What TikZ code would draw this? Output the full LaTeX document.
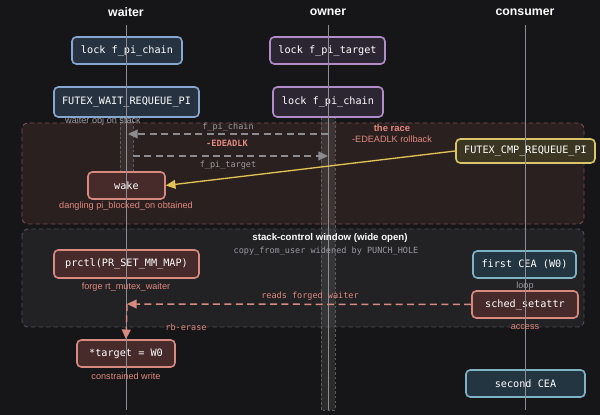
\documentclass[tikz,border=0pt]{standalone}
\usepackage{fontspec}
\setmainfont{Liberation Sans}
\setsansfont{Liberation Sans}
\setmonofont{DejaVu Sans Mono}
\usetikzlibrary{arrows.meta}
\definecolor{bg}{HTML}{161618}
\definecolor{lifec}{HTML}{8E8E92}
\definecolor{blueB}{HTML}{86A8D0}
\definecolor{blueF}{HTML}{26323F}
\definecolor{purB}{HTML}{B08CC8}
\definecolor{purF}{HTML}{2C2633}
\definecolor{salB}{HTML}{D88A80}
\definecolor{salF}{HTML}{472A2A}
\definecolor{yelB}{HTML}{D9C56A}
\definecolor{yelF}{HTML}{3B3621}
\definecolor{tealB}{HTML}{7FB3C4}
\definecolor{tealF}{HTML}{233540}
\definecolor{raceF}{HTML}{2B2020}
\definecolor{raceB}{HTML}{7E4B4C}
\definecolor{stackF}{HTML}{222225}
\definecolor{stackB}{HTML}{4C4C52}
\definecolor{salT}{HTML}{E0897F}
\definecolor{greyT}{HTML}{9A9A9E}
\definecolor{arrG}{HTML}{8C8C90}
\definecolor{yelA}{HTML}{E2C455}
\tikzset{
  px/.style={x=0.02cm,y=-0.02cm},
  box/.style={draw, rounded corners=2.4pt, line width=0.9pt, text=white,
    font=\ttfamily\fontsize{5.8}{7}\selectfont, inner sep=0pt},
  bluebox/.style={box, draw=blueB, fill=blueF},
  purbox/.style={box, draw=purB, fill=purF},
  salbox/.style={box, draw=salB, fill=salF},
  yelbox/.style={box, draw=yelB, fill=yelF},
  tealbox/.style={box, draw=tealB, fill=tealF},
  header/.style={text=white, font=\bfseries\fontsize{7}{8}\selectfont},
  lifeline/.style={draw=lifec, line width=0.45pt},
  frame/.style={dashed, dash pattern=on 2.5pt off 1.8pt, rounded corners=3.5pt, line width=0.55pt},
  actbar/.style={dashed, dash pattern=on 1.5pt off 1.2pt, line width=0.4pt},
  smallsans/.style={font=\fontsize{5.2}{6}\selectfont, inner sep=0pt},
  smallmono/.style={font=\ttfamily\fontsize{4.85}{6}\selectfont, inner sep=0pt},
  greyarrow/.style={draw=arrG, dashed, dash pattern=on 4pt off 2.5pt, line width=0.85pt,
    -{Triangle[length=5.5pt,width=5pt]}, arrG},
  salarrow/.style={draw=salB, dashed, dash pattern=on 4pt off 2.5pt, line width=0.85pt,
    -{Triangle[length=5.5pt,width=5pt]}, salB},
}
\begin{document}
\begin{tikzpicture}[px]
\fill[bg] (0,0) rectangle (600,415);
\useasboundingbox (0,0) rectangle (600,415);

% frames
\draw[frame, fill=raceF, draw=raceB] (22,123) rectangle (584,224);
\draw[frame, fill=stackF, draw=stackB] (22,229) rectangle (584,327);

% activation bars
\draw[actbar, draw=white!30!bg, fill=white, fill opacity=0.06] (120,113) rectangle (133,176);
\draw[actbar, draw=white!30!bg, fill=white, fill opacity=0.09] (321,113) rectangle (335,410);

% headers
\node[header] (hW) at (126,12) {waiter};
\node[header] (hO) at (328,12) {owner};
\node[header] (hC) at (525,12) {consumer};

% boxes
\node[bluebox, minimum width=110*0.02cm, minimum height=27*0.02cm] (wlock) at (127,50.5) {lock f\_pi\_chain};
\node[bluebox, minimum width=145*0.02cm, minimum height=30*0.02cm] (wfutex) at (126.5,102) {FUTEX\_WAIT\_REQUEUE\_PI};
\node[purbox, minimum width=115*0.02cm, minimum height=27*0.02cm] (olock1) at (327.5,50.5) {lock f\_pi\_target};
\node[purbox, minimum width=110*0.02cm, minimum height=30*0.02cm] (olock2) at (328,102) {lock f\_pi\_chain};
\node[yelbox, minimum width=139*0.02cm, minimum height=24*0.02cm] (cmp) at (525.5,151) {FUTEX\_CMP\_REQUEUE\_PI};
\node[salbox, minimum width=77*0.02cm, minimum height=27*0.02cm] (wake) at (126.5,185.5) {wake};
\node[salbox, minimum width=145*0.02cm, minimum height=28*0.02cm] (prctl) at (126.5,264) {prctl(PR\_SET\_MM\_MAP)};
\node[tealbox, minimum width=103*0.02cm, minimum height=27*0.02cm] (first) at (524.5,264.5) {first CEA (W0)};
\node[salbox, minimum width=106*0.02cm, minimum height=27*0.02cm] (sched) at (525,304.5) {sched\_setattr};
\node[salbox, minimum width=98*0.02cm, minimum height=27*0.02cm] (target) at (126,353.5) {*target = W0};
\node[tealbox, minimum width=119*0.02cm, minimum height=27*0.02cm] (second) at (525.5,383.5) {second CEA};

% lifelines
\coordinate (ltW) at (126,25); \coordinate (lbW) at (126,410);
\coordinate (ltO) at (328,25); \coordinate (lbO) at (328,410);
\coordinate (ltC) at (525,25); \coordinate (lbC) at (525,410);
\draw[lifeline] (ltW) -- (lbW);
\draw[lifeline] (ltO) -- (lbO);
\draw[lifeline] (ltC) -- (lbC);

% frame labels
\node[smallsans, text=greyT] (lstack) at (103,121) {waiter obj on stack};
\node[smallsans, text=salT, font=\bfseries\fontsize{5.4}{6}\selectfont] (lrace) at (392,128) {the race};
\node[smallsans, text=salT] (lrb) at (392,139) {-EDEADLK rollback};
\node[smallsans, text=white, font=\bfseries\fontsize{5.5}{6}\selectfont] (lwin) at (330,238) {stack-control window (wide open)};
\node[smallmono, text=greyT] (lcopy) at (326,251) {copy\_from\_user widened by PUNCH\_HOLE};

% message arrows
\coordinate (o1) at (328,134); \coordinate (w1) at (128,134);
\coordinate (w2) at (133,156); \coordinate (o2) at (328,156);
\draw[greyarrow] (o1) -- (w1);
\draw[greyarrow] (w2) -- (o2);
\node[smallmono, text=greyT] (lchain) at (228,127) {f\_pi\_chain};
\node[smallmono, text=salT, font=\ttfamily\bfseries\fontsize{4.95}{6}\selectfont] (ledead) at (227,143) {-EDEADLK};
\node[smallmono, text=greyT] (ltarget) at (228,165) {f\_pi\_target};

\draw[yelA, line width=0.75pt, -{Triangle[length=5.5pt,width=5pt]}] (cmp.west) -- (wake.east);

\coordinate (wr) at (127,304);
\draw[salarrow] (sched.west) -- (wr);
\draw[salarrow] (wr) -- (target.north);
\node[smallmono, text=salT] (lreads) at (310,296) {reads forged waiter};
\node[smallmono, text=salT] (lerase) at (186,327) {rb-erase};

% notes under boxes
\node[smallsans, text=salT] (ldang) at (126,206) {dangling pi\_blocked\_on obtained};
\node[smallsans, text=salT] (lforge) at (126,287) {forge rt\_mutex\_waiter};
\node[smallsans, text=greyT] (lloop) at (525,286) {loop};
\node[smallsans, text=salT] (lacc) at (525,327) {access};
\node[smallsans, text=salT] (lcons) at (126,376) {constrained write};
\end{tikzpicture}
\end{document}
